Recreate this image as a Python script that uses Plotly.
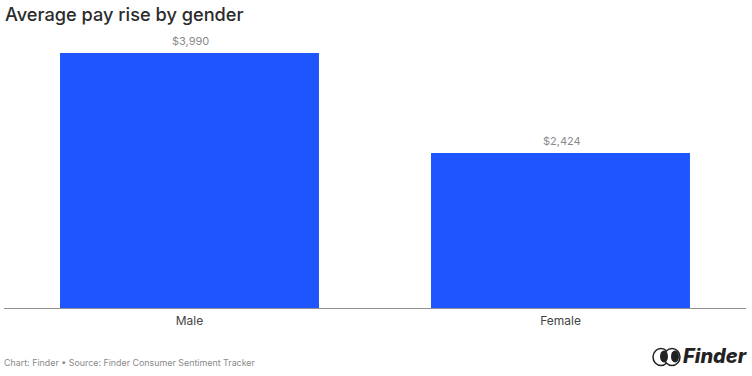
import plotly.graph_objects as go

categories = ["Male", "Female"]
pay_rise = [3990, 2424]
value_labels = ["$3,990", "$2,424"]
title = "Average pay rise by gender"
source = "Chart: Finder • Source: Finder Consumer Sentiment Tracker"
brand = "Finder"

FONT = "Inter, 'Open Sans', sans-serif"

fig = go.Figure(go.Bar(
    x=categories, y=pay_rise,
    cliponaxis=False, marker=dict(color="#1f55ff", line=dict(width=0)),
    hoverinfo="skip",
))

def paper_shape(kind, x0, y0, x1, y1, **kw):
    # pixel position in the 752x376 page to paper fractions of the plot area
    return dict(type=kind, xref="paper", yref="paper",
                x0=(x0 - 4) / 742, x1=(x1 - 4) / 742,
                y0=(308.5 - y0) / 255.5, y1=(308.5 - y1) / 255.5, **kw)

shapes = [
    paper_shape("circle", 653, 349, 669, 366, line=dict(color="#222", width=1.5), fillcolor="white"),
    paper_shape("circle", 664, 349, 680, 366, line=dict(color="#222", width=1.5), fillcolor="white"),
    paper_shape("circle", 660, 351, 668, 363, line=dict(width=0), fillcolor="#222"),
    paper_shape("circle", 671, 351, 679, 363, line=dict(width=0), fillcolor="#222"),
]

value_notes = [
    dict(x=c, y=v, text=t, yref="y", xref="x", yanchor="bottom", showarrow=False,
         yshift=3, xshift=1, font=dict(family=FONT, size=11, color="#8a8a8a"))
    for c, v, t in zip(categories, pay_rise, value_labels)
]

fig.update_layout(
    width=752, height=376, autosize=False,
    margin=dict(l=4, r=6, t=53, b=67.5, pad=0),
    paper_bgcolor="white", plot_bgcolor="white",
    bargap=0.302, showlegend=False, shapes=shapes,
    font=dict(family=FONT, color="#444"),
    xaxis=dict(showgrid=False, showline=True, linecolor="#8f8f8f", linewidth=1,
               ticks="", tickfont=dict(family=FONT, size=12, color="#444"),
               ticklabelstandoff=2, zeroline=False),
    yaxis=dict(range=[0, 3990], visible=False),
    annotations=value_notes + [
        dict(text=title, xref="paper", yref="paper", x=0, xshift=-1, y=(308.5 - 14) / 255.5,
             xanchor="left", yanchor="middle", showarrow=False,
             font=dict(family=FONT, size=18.2, color="#2b2b2b", weight=500)),
        dict(text=source, xref="paper", yref="paper", x=0, xshift=-2, y=(308.5 - 363) / 255.5,
             xanchor="left", yanchor="middle", showarrow=False,
             font=dict(family=FONT, size=8.9, color="#8a8a8a")),
        dict(text="<i>" + brand + "</i>", xref="paper", yref="paper",
             x=1, xshift=3, y=(308.5 - 357) / 255.5,
             xanchor="right", yanchor="middle", showarrow=False,
             font=dict(family=FONT, size=20, color="#222", weight=800)),
    ],
)
fig.write_html("out.html", config={"displayModeBar": False},
               post_script="document.body.style.margin='0';")
